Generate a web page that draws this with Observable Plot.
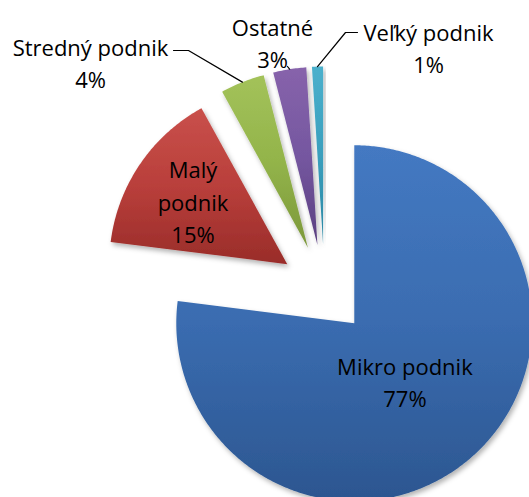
<!DOCTYPE html>
<html>
<head>
<meta charset="utf-8">
<script src="https://cdn.jsdelivr.net/npm/d3@7"></script>
<script src="https://cdn.jsdelivr.net/npm/@observablehq/plot@0.6"></script>
<style>
  html, body { margin: 0; padding: 0; background: #fff; }
  #chart svg { display: block; }
</style>
</head>
<body>
<div id="chart"></div>
<script>
// ---- data ----
const categories = ["Mikro podnik", "Malý podnik", "Stredný podnik", "Ostatné", "Veľký podnik"];
const values = [77, 15, 4, 3, 1];
const labelNames = ["Mikro podnik", "Malý\npodnik", "Stredný podnik", "Ostatné", "Veľký podnik"];
const baseColors = ["#3a6cb0", "#b93f3b", "#93b44a", "#7557a0", "#3a9fbd"];
const topColors = ["#4479c2", "#c9504b", "#a3c25a", "#8763ab", "#4bb0cc"];
const bottomColors = ["#2c5690", "#992c29", "#7b973a", "#5a3f80", "#2a86a2"];

// ---- layout (in pie-radius units; centre of pie = 0,0; y up) ----
const W = 529, H = 497;
const R = 178;                 // pixel radius
const cx = 324, cy = 289;      // pie centre in pixels
const explode = 0.253;         // explosion distance (radius units)
const labelLayout = [
  {inside: true, r: 0.43},
  {inside: true, r: 0.64},
  {inside: false, x: (90 - cx) / R, y: (cy - 61) / R, lead: [[(173 - cx) / R, (cy - 50) / R], [(188 - cx) / R, (cy - 50) / R]]},
  {inside: false, x: (272 - cx) / R, y: (cy - 41) / R, lead: [[(287 - cx) / R, (cy - 66) / R]]},
  {inside: false, x: (428 - cx) / R, y: (cy - 46) / R, lead: [[(357 - cx) / R, (cy - 32) / R], [(345 - cx) / R, (cy - 32) / R]]}
];

// ---- build slices via d3.pie ----
const total = d3.sum(values);
const pie = d3.pie().sort(null).value(d => d)(values);
const polar = (a, r) => [r * Math.sin(a), r * Math.cos(a)];

const slicePts = [];
const labels = [];
const leaders = [];
pie.forEach((p, i) => {
  const mid = (p.startAngle + p.endAngle) / 2;
  const [ox, oy] = polar(mid, explode);
  const name = categories[i];
  slicePts.push({name, x: ox, y: oy});
  const n = Math.max(4, Math.ceil((p.endAngle - p.startAngle) / 0.01));
  for (let k = 0; k <= n; k++) {
    const a = p.startAngle + (p.endAngle - p.startAngle) * k / n;
    const [px, py] = polar(a, 1);
    slicePts.push({name, x: ox + px, y: oy + py});
  }
  slicePts.push({name, x: ox, y: oy});

  const L = labelLayout[i];
  const text = labelNames[i] + "\n" + Math.round(values[i] / total * 100) + "%";
  if (L.inside) {
    const [lx, ly] = polar(mid, L.r);
    labels.push({x: ox + lx, y: oy + ly, text});
  } else {
    labels.push({x: L.x, y: L.y, text});
    const [ax, ay] = polar(mid, 1);
    const pts = [...L.lead, [ox + ax, oy + ay]];
    pts.forEach(([x, y]) => leaders.push({name, x, y}));
  }
});

const fills = categories.map((c, i) => `url(#grad${i})`);

const chart = Plot.plot({
  width: W,
  height: H,
  margin: 0,
  x: {domain: [-cx / R, (W - cx) / R], range: [0, W], axis: null},
  y: {domain: [-(H - cy) / R, cy / R], range: [H, 0], axis: null},
  color: {type: "ordinal", domain: categories, range: fills},
  marks: [
    Plot.line(slicePts, {x: "x", y: "y", z: "name", fill: "name", stroke: "none", curve: "linear"}),
    Plot.line(leaders, {x: "x", y: "y", z: "name", stroke: "#000", strokeWidth: 1.2}),
    Plot.text(labels, {x: "x", y: "y", text: "text", fontSize: 22, lineHeight: 1.48, lineAnchor: "middle", textAnchor: "middle", fill: "#000"})
  ],
  style: {fontFamily: "'Open Sans', 'Noto Sans', sans-serif", background: "#fff"}
});

// gradients and shadow
const svg = d3.select(chart);
const defs = svg.insert("defs", ":first-child");
baseColors.forEach((c, i) => {
  const g = defs.append("linearGradient").attr("id", `grad${i}`)
    .attr("x1", 0).attr("y1", 0).attr("x2", 0).attr("y2", 1);
  g.append("stop").attr("offset", "0%").attr("stop-color", topColors[i]);
  g.append("stop").attr("offset", "50%").attr("stop-color", c);
  g.append("stop").attr("offset", "100%").attr("stop-color", bottomColors[i]);
});
const f = defs.append("filter").attr("id", "shadow").attr("x", "-10%").attr("y", "-10%").attr("width", "130%").attr("height", "130%");
f.append("feDropShadow").attr("dx", 2).attr("dy", 3).attr("stdDeviation", 2.5).attr("flood-color", "#000").attr("flood-opacity", 0.3);
svg.select('g[aria-label="line"]').selectAll("path").attr("filter", "url(#shadow)");

document.getElementById("chart").appendChild(chart);
</script>
</body>
</html>
